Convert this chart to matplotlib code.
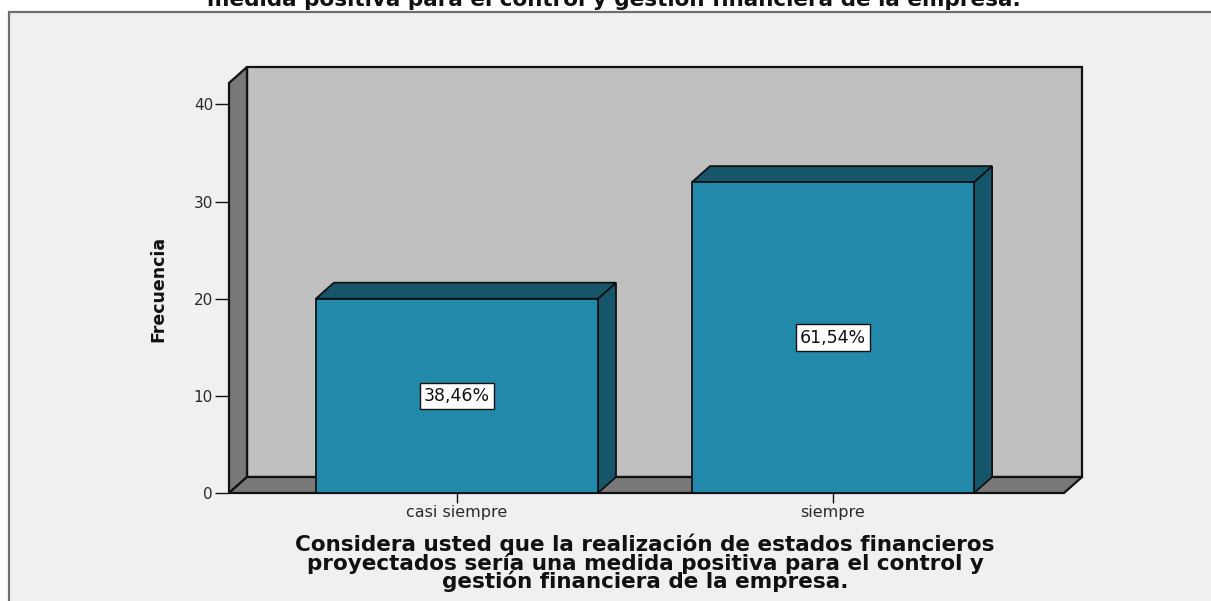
import matplotlib
matplotlib.use("Agg")
import matplotlib.pyplot as plt
from matplotlib.patches import Polygon, Rectangle
import numpy as np

# Data
categories = ["casi siempre", "siempre"]
frequencies = [20, 32]
y_ticks = [0, 10, 20, 30, 40]
y_top = 42.2

title_text = "medida positiva para el control y gestión financiera de la empresa."
x_title = ("Considera usted que la realización de estados financieros\n"
           "proyectados sería una medida positiva para el control y\n"
           "gestión financiera de la empresa.")
y_title = "Frecuencia"

# Styling
W, H = 1211, 601
FACE = "#2389ab"
DARK = "#16566a"
WALL_BACK = "#c0c0c0"
WALL_SIDE = "#787878"
EDGE = "#111111"
DEPTH = (18, 16)  # pixel offset of the back plane
bar_width = 0.75

fig = plt.figure(figsize=(W / 100, H / 100), dpi=100)
fig.patch.set_facecolor("white")

# chart frame
fig.patches.append(Rectangle((9 / W, -0.02), 1.1, (H - 12) / H + 0.02,
                             transform=fig.transFigure, facecolor="#f0f0f0",
                             edgecolor="#707070", linewidth=1.6, zorder=-5))

left, right, bottom, top = 229, 1064, 493, 83
ax = fig.add_axes([left / W, (H - bottom) / H, (right - left) / W, (bottom - top) / H])
ax.set_zorder(2)
ax.set_xlim(-0.606, 1.614)
ax.set_ylim(0, y_top)
ax.patch.set_alpha(0)
for s in ax.spines.values():
    s.set_visible(False)

x0, x1 = ax.get_xlim()
y0, y1 = ax.get_ylim()


def back(x, y):
    p = ax.transData.transform((x, y)) + np.array(DEPTH)
    return tuple(ax.transData.inverted().transform(p))


def poly(pts, fc, lw=1.6, z=1):
    ax.add_patch(Polygon(pts, closed=True, facecolor=fc, edgecolor=EDGE,
                         linewidth=lw, joinstyle="miter", clip_on=False, zorder=z))


# walls and floor
poly([back(x0, y0), back(x1, y0), back(x1, y1), back(x0, y1)], WALL_BACK, z=1)
poly([(x0, y0), (x0, y1), back(x0, y1), back(x0, y0)], WALL_SIDE, z=2)
poly([(x0, y0), (x1, y0), back(x1, y0), back(x0, y0)], WALL_SIDE, z=2)

# bars
total = sum(frequencies)
xs = np.arange(len(categories))
for i, v in zip(xs, frequencies):
    xl, xr = i - bar_width / 2, i + bar_width / 2
    poly([(xr, 0), (xr, v), back(xr, v), back(xr, 0)], DARK, lw=1.3, z=3)
    poly([(xl, v), (xr, v), back(xr, v), back(xl, v)], DARK, lw=1.3, z=3)
    ax.add_patch(Rectangle((xl, 0), bar_width, v, facecolor=FACE, edgecolor=EDGE,
                           linewidth=1.3, zorder=4, clip_on=False))
    pct = f"{v / total * 100:.2f}%".replace(".", ",")
    ax.text(i, v / 2, pct, ha="center", va="center", fontsize=12.5, color="#111111",
            zorder=6, bbox=dict(boxstyle="square,pad=0.25", facecolor="white",
                                edgecolor="#111111", linewidth=1.0))

# axes ticks
ax.set_yticks(y_ticks)
ax.set_yticklabels([str(t) for t in y_ticks])
ax.set_xticks(xs)
ax.set_xticklabels(categories)
ax.tick_params(axis="y", length=10, width=1.0, color="#111111", pad=1.5,
               labelsize=11, labelcolor="#2a2a2a")
ax.tick_params(axis="x", length=7, width=1.0, color="#111111", pad=2,
               labelsize=11.5, labelcolor="#2a2a2a")

# texts
fig.text(614 / W, 1 - 6 / H, title_text, ha="center", va="baseline",
         fontsize=15.5, fontweight="bold", color="#111111")
fig.text(645 / W, 1 - 563 / H, x_title, ha="center", va="center",
         fontsize=15.5, fontweight="bold", color="#111111", linespacing=0.84)
fig.text(158 / W, 1 - 289 / H, y_title, rotation=90, ha="center", va="center",
         fontsize=12.5, fontweight="bold", color="#111111")

fig.savefig("out.png", dpi=100)
